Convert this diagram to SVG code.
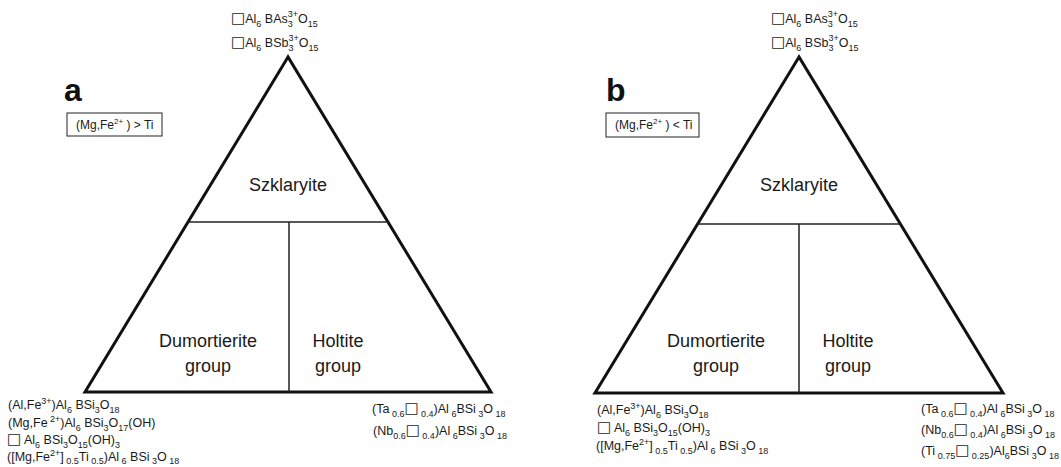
<svg xmlns="http://www.w3.org/2000/svg" width="1061" height="467" viewBox="0 0 1061 467">
<style>
.f{font-family:"Liberation Sans",Arial,sans-serif;font-size:12.5px;fill:#1a1a1a}
.s{font-size:9px}
.sq{font-family:"DejaVu Sans",sans-serif;font-size:15px}
.big{font-family:"Liberation Sans",Arial,sans-serif;font-size:18px;fill:#1a1a1a;text-anchor:middle}
.lab{font-family:"Liberation Sans",Arial,sans-serif;font-size:32px;font-weight:bold;fill:#111}
.tri{fill:none;stroke:#111;stroke-width:3;stroke-linejoin:miter}
.in{fill:none;stroke:#222;stroke-width:1.5}
.box{fill:#fff;stroke:#222;stroke-width:1}
.bx{font-family:"Liberation Sans",Arial,sans-serif;font-size:12px;fill:#1a1a1a}
</style>
<rect width="1061" height="467" fill="#fff"/>
<g id="connectors">
<polygon class="tri" points="288,57 85,392 491,392"/>
<line class="in" x1="188" y1="222" x2="388" y2="222"/>
<line class="in" x1="289" y1="222" x2="289" y2="392"/>
<polygon class="tri" points="799,57 595,393 1003,393"/>
<line class="in" x1="697" y1="224" x2="901" y2="224"/>
<line class="in" x1="799" y1="224" x2="799" y2="393"/>
</g>
<g id="panel-a">
<g id="a-label"><text class="lab" x="64" y="101">a</text></g>
<g id="a-cond"><rect class="box" x="67" y="113" width="95" height="23"/>
<text class="bx" x="76" y="129">(Mg,Fe<tspan class="s" dy="-5" style="font-size:8px">2+</tspan><tspan dy="5"> ) &gt; Ti</tspan></text></g>
<g id="a-top">
<text class="f" x="231" y="23"><tspan class="sq">□</tspan>Al<tspan class="s" dy="4">6</tspan><tspan dy="-4"> BAs</tspan><tspan class="s" dy="4">3</tspan><tspan class="s" dx="-5" dy="-10">3+</tspan><tspan dy="6">O</tspan><tspan class="s" dy="4">15</tspan></text>
<text class="f" x="231" y="47"><tspan class="sq">□</tspan>Al<tspan class="s" dy="4">6</tspan><tspan dy="-4"> BSb</tspan><tspan class="s" dy="4">3</tspan><tspan class="s" dx="-5" dy="-10">3+</tspan><tspan dy="6">O</tspan><tspan class="s" dy="4">15</tspan></text>
</g>
<g id="a-szk"><text class="big" x="288" y="191">Szklaryite</text></g>
<g id="a-dum"><text class="big" x="208" y="347">Dumortierite</text><text class="big" x="208" y="372">group</text></g>
<g id="a-hol"><text class="big" x="338" y="347">Holtite</text><text class="big" x="338" y="372">group</text></g>
<g id="a-bl">
<text class="f" x="8" y="409">(Al,Fe<tspan class="s" dy="-5">3+</tspan><tspan dy="5">)Al</tspan><tspan class="s" dy="4">6</tspan><tspan dy="-4"> BSi</tspan><tspan class="s" dy="4">3</tspan><tspan dy="-4">O</tspan><tspan class="s" dy="4">18</tspan></text>
<text class="f" x="8" y="427">(Mg,Fe<tspan class="s" dy="-5"> 2+</tspan><tspan dy="5">)Al</tspan><tspan class="s" dy="4">6</tspan><tspan dy="-4"> BSi</tspan><tspan class="s" dy="4">3</tspan><tspan dy="-4">O</tspan><tspan class="s" dy="4">17</tspan><tspan dy="-4">(OH)</tspan></text>
<text class="f" x="7" y="444"><tspan class="sq">□</tspan> Al<tspan class="s" dy="4">6</tspan><tspan dy="-4"> BSi</tspan><tspan class="s" dy="4">3</tspan><tspan dy="-4">O</tspan><tspan class="s" dy="4">15</tspan><tspan dy="-4">(OH)</tspan><tspan class="s" dy="4">3</tspan></text>
<text class="f" x="7" y="461">([Mg,Fe<tspan class="s" dy="-5">2+</tspan><tspan dy="5">]</tspan><tspan class="s" dy="3"> 0.5</tspan><tspan dy="-3">Ti</tspan><tspan class="s" dy="3">  0.5</tspan><tspan dy="-3">)Al</tspan><tspan class="s" dy="3"> 6</tspan><tspan dy="-3"> BSi</tspan><tspan class="s" dy="3"> 3</tspan><tspan dy="-3">O</tspan><tspan class="s" dy="3"> 18</tspan></text>
</g>
<g id="a-br">
<text class="f" x="372" y="413">(Ta<tspan class="s" dy="4"> 0.6</tspan><tspan class="sq" dy="-4">□</tspan><tspan class="s" dy="4"> 0.4</tspan><tspan dy="-4">)Al</tspan><tspan class="s" dy="4"> 6</tspan><tspan dy="-4">BSi</tspan><tspan class="s" dy="4"> 3</tspan><tspan dy="-4">O</tspan><tspan class="s" dy="4"> 18</tspan></text>
<text class="f" x="373" y="435">(Nb<tspan class="s" dy="4">0.6</tspan><tspan class="sq" dy="-4">□</tspan><tspan class="s" dy="4"> 0.4</tspan><tspan dy="-4">)Al</tspan><tspan class="s" dy="4"> 6</tspan><tspan dy="-4">BSi</tspan><tspan class="s" dy="4"> 3</tspan><tspan dy="-4">O</tspan><tspan class="s" dy="4"> 18</tspan></text>
</g>
</g>
<g id="panel-b">
<g id="b-label"><text class="lab" x="606" y="101">b</text></g>
<g id="b-cond"><rect class="box" x="606" y="113" width="93" height="24"/>
<text class="bx" x="615" y="129">(Mg,Fe<tspan class="s" dy="-5" style="font-size:8px">2+</tspan><tspan dy="5"> ) &lt; Ti</tspan></text></g>
<g id="b-top">
<text class="f" x="771" y="23"><tspan class="sq">□</tspan>Al<tspan class="s" dy="4">6</tspan><tspan dy="-4"> BAs</tspan><tspan class="s" dy="4">3</tspan><tspan class="s" dx="-5" dy="-10">3+</tspan><tspan dy="6">O</tspan><tspan class="s" dy="4">15</tspan></text>
<text class="f" x="771" y="47"><tspan class="sq">□</tspan>Al<tspan class="s" dy="4">6</tspan><tspan dy="-4"> BSb</tspan><tspan class="s" dy="4">3</tspan><tspan class="s" dx="-5" dy="-10">3+</tspan><tspan dy="6">O</tspan><tspan class="s" dy="4">15</tspan></text>
</g>
<g id="b-szk"><text class="big" x="799" y="191">Szklaryite</text></g>
<g id="b-dum"><text class="big" x="716" y="347">Dumortierite</text><text class="big" x="716" y="372">group</text></g>
<g id="b-hol"><text class="big" x="848" y="347">Holtite</text><text class="big" x="848" y="372">group</text></g>
<g id="b-bl">
<text class="f" x="597" y="414">(Al,Fe<tspan class="s" dy="-5">3+</tspan><tspan dy="5">)Al</tspan><tspan class="s" dy="4">6</tspan><tspan dy="-4"> BSi</tspan><tspan class="s" dy="4">3</tspan><tspan dy="-4">O</tspan><tspan class="s" dy="4">18</tspan></text>
<text class="f" x="597" y="432"><tspan class="sq">□</tspan> Al<tspan class="s" dy="4">6</tspan><tspan dy="-4"> BSi</tspan><tspan class="s" dy="4">3</tspan><tspan dy="-4">O</tspan><tspan class="s" dy="4">15</tspan><tspan dy="-4">(OH)</tspan><tspan class="s" dy="4">3</tspan></text>
<text class="f" x="596" y="450">([Mg,Fe<tspan class="s" dy="-5">2+</tspan><tspan dy="5">]</tspan><tspan class="s" dy="4"> 0.5</tspan><tspan dy="-4">Ti</tspan><tspan class="s" dy="4">  0.5</tspan><tspan dy="-4">)Al</tspan><tspan class="s" dy="4"> 6</tspan><tspan dy="-4"> BSi</tspan><tspan class="s" dy="4"> 3</tspan><tspan dy="-4">O</tspan><tspan class="s" dy="4"> 18</tspan></text>
</g>
<g id="b-br">
<text class="f" x="921" y="413">(Ta<tspan class="s" dy="4"> 0.6</tspan><tspan class="sq" dy="-4">□</tspan><tspan class="s" dy="4"> 0.4</tspan><tspan dy="-4">)Al</tspan><tspan class="s" dy="4"> 6</tspan><tspan dy="-4">BSi</tspan><tspan class="s" dy="4"> 3</tspan><tspan dy="-4">O</tspan><tspan class="s" dy="4"> 18</tspan></text>
<text class="f" x="921" y="434">(Nb<tspan class="s" dy="4">0.6</tspan><tspan class="sq" dy="-4">□</tspan><tspan class="s" dy="4"> 0.4</tspan><tspan dy="-4">)Al</tspan><tspan class="s" dy="4"> 6</tspan><tspan dy="-4">BSi</tspan><tspan class="s" dy="4"> 3</tspan><tspan dy="-4">O</tspan><tspan class="s" dy="4"> 18</tspan></text>
<text class="f" x="921" y="455">(Ti<tspan class="s" dy="4"> 0.75</tspan><tspan class="sq" dy="-4">□</tspan><tspan class="s" dy="4"> 0.25</tspan><tspan dy="-4">)Al</tspan><tspan class="s" dy="4">6</tspan><tspan dy="-4">BSi</tspan><tspan class="s" dy="4"> 3</tspan><tspan dy="-4">O</tspan><tspan class="s" dy="4"> 18</tspan></text>
</g>
</g>
</svg>
